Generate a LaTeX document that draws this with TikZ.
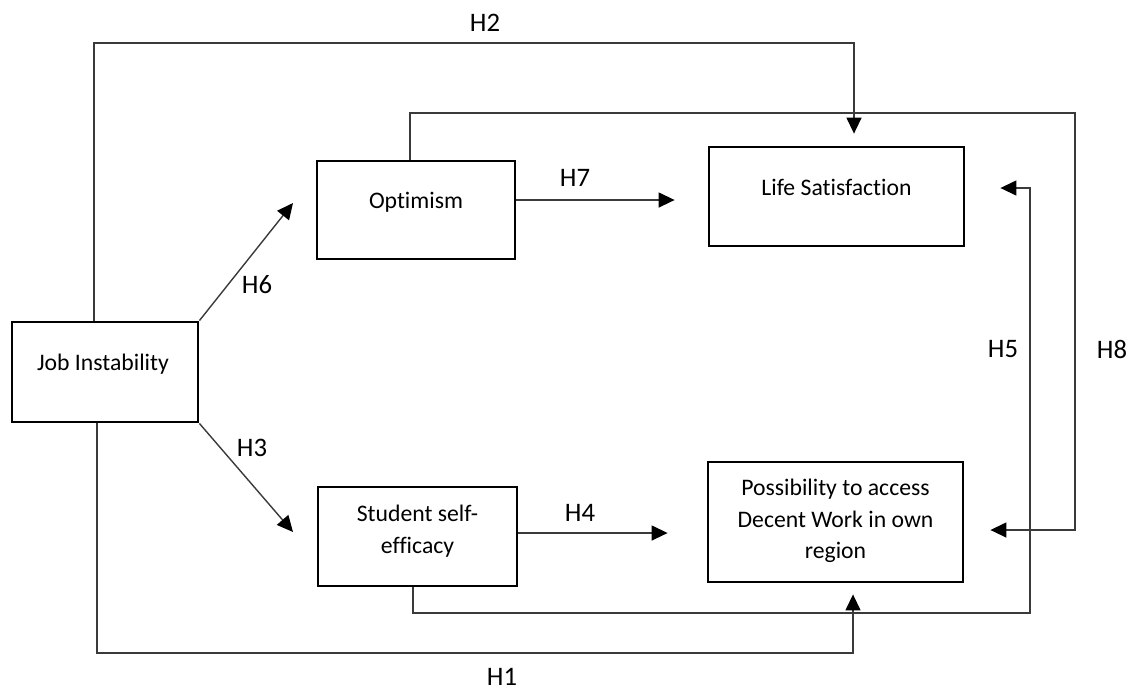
\documentclass[tikz,border=0pt]{standalone}
\usepackage{fontspec}
\setmainfont[Ligatures=NoCommon]{Carlito}
\usetikzlibrary{arrows.meta,calc}
\definecolor{linegray}{HTML}{3A3A3A}
\tikzset{
  varbox/.style={draw=black, line width=1.4pt, rectangle, inner sep=0pt},
  txt/.style={font=\fontsize{11.85pt}{15.75pt}\selectfont, align=center, inner sep=0pt},
  lbl/.style={font=\fontsize{13.35pt}{16pt}\selectfont, inner sep=0pt},
  conn/.style={draw=linegray, line width=0.7pt},
  arr/.style={conn, -{Triangle[length=8pt,width=7.5pt,color=black]}},
}
\begin{document}
\begin{tikzpicture}[x=0.5pt,y=-0.5pt]
\useasboundingbox (0,0) rectangle (1144,693);

% variable boxes
\node[varbox, minimum width=93pt,   minimum height=50pt]   (job)  at (105,372)   {};
\node[varbox, minimum width=99pt,   minimum height=49pt]   (opt)  at (416,210)   {};
\node[varbox, minimum width=127.5pt, minimum height=49.5pt] (life) at (836.5,196.5) {};
\node[varbox, minimum width=99.5pt, minimum height=49.5pt] (stud) at (417.5,536.5) {};
\node[varbox, minimum width=127.5pt, minimum height=60pt]  (poss) at (835.5,522) {};

% box captions
\node[txt] (jobtxt)  at (103,364)   {Job Instability};
\node[txt] (opttxt)  at (416,202)   {Optimism};
\node[txt] (lifetxt) at (836.5,187) {Life Satisfaction};
\node[txt] (studtxt) at (417.5,531) {Student self-\\efficacy};
\node[txt] (posstxt) at (835.5,521) {Possibility to access\\Decent Work in own\\region};

% direct paths
\coordinate (h6end) at (293,203);
\coordinate (h3end) at (293,532);
\draw[arr] (job.north east) -- (h6end);
\draw[arr] (job.south east) -- (h3end);
\draw[arr, shorten >=16.5pt] (opt.east |- 0,200) -- (life.west |- 0,200);
\draw[arr, shorten >=19.5pt] (stud.east |- 0,533) -- (poss.west |- 0,533);

% routed paths
\draw[arr, shorten >=6pt] (94,0 |- job.north) -- (94,43) -| ($(life.north)+(17.5,0)$);
\draw[arr, shorten >=13pt] (410,0 |- opt.north) |- (1075,113) |- (poss.east |- 0,530);
\draw[arr, shorten >=17.5pt] (413,0 |- stud.south) |- (1030,613) |- (life.east |- 0,188);
\draw[arr, shorten >=5.5pt] (97,0 |- job.south) |- (853,653) -- (853,0 |- poss.south);

% hypothesis labels
\node[lbl] (lh1) at (502,677) {H1};
\node[lbl] (lh2) at (485,23)  {H2};
\node[lbl] (lh3) at (252,448) {H3};
\node[lbl] (lh4) at (580,513) {H4};
\node[lbl] (lh5) at (1003,349) {H5};
\node[lbl] (lh6) at (257,285) {H6};
\node[lbl] (lh7) at (575,178) {H7};
\node[lbl] (lh8) at (1112,349) {H8};
\end{tikzpicture}
\end{document}
